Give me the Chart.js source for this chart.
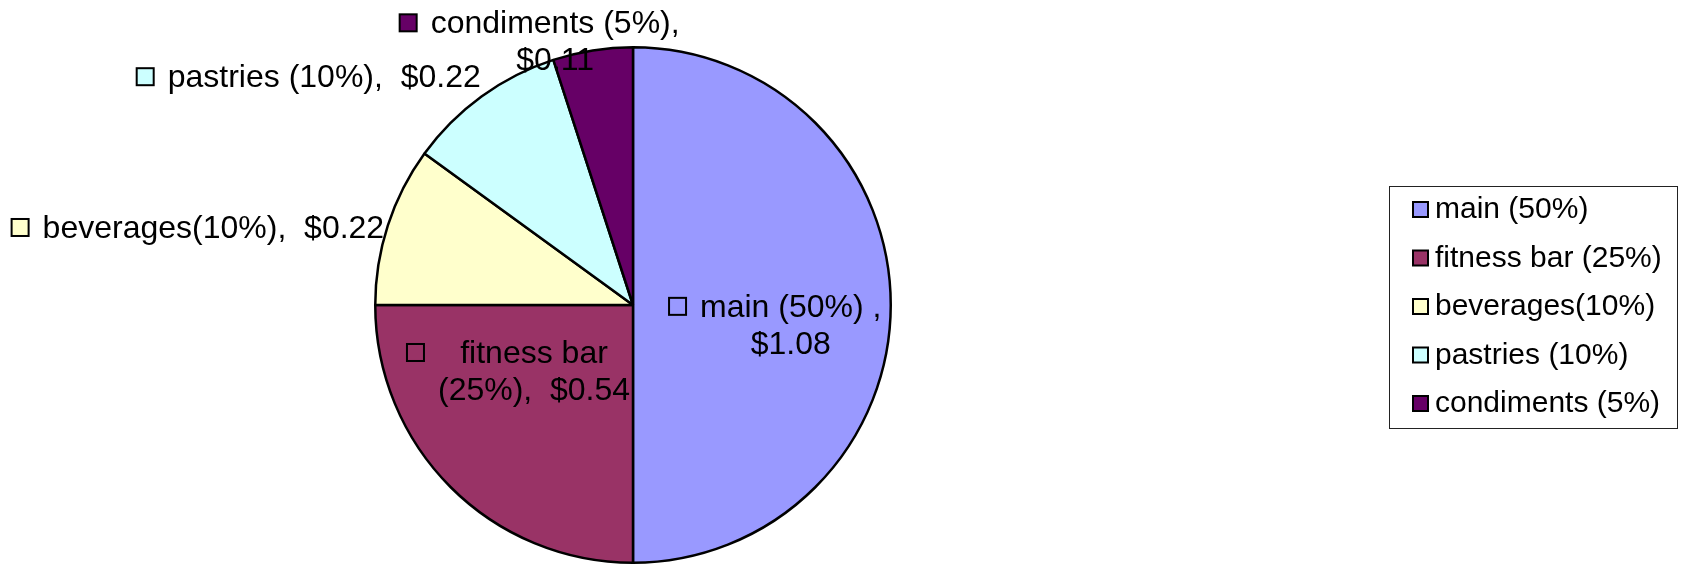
<!DOCTYPE html>
<html>
<head>
<meta charset="utf-8">
<script src="https://cdn.jsdelivr.net/npm/chart.js@4.4.0/dist/chart.umd.min.js"></script>
<style>
  html, body { margin: 0; padding: 0; background: #ffffff; }
  canvas { display: block; }
</style>
</head>
<body>
<canvas id="grafico" width="1681" height="564"></canvas>
<script>
// datos del grafico
const categorias = ['main (50%)', 'fitness bar (25%)', 'beverages(10%)', 'pastries (10%)', 'condiments (5%)'];
const porcentajes = [50, 25, 10, 10, 5];
const montos = ['$1.08', '$0.54', '$0.22', '$0.22', '$0.11'];
const etiquetas = [
    ['main (50%) ,', '$1.08'],
    ['fitness bar', '(25%),  $0.54'],
    ['beverages(10%),  $0.22'],
    ['pastries (10%),  $0.22'],
    ['condiments (5%),', '$0.11']
];
const colores = ['#9999FF', '#993366', '#FFFFCC', '#CCFFFF', '#660066'];

// posicion de cada etiqueta, en radios desde el centro del pastel
const posEtiquetas = [
    [0.612, 0.046],
    [-0.384, 0.225],
    [-1.628, -0.260],
    [-1.198, -0.845],
    [-0.302, -1.054]
];

const FUENTE = 'Liberation Sans, Arial, sans-serif';

// Dibujar etiquetas de datos con su cuadrito de color
const pluginEtiquetas = {
    id: 'etiquetas',
    afterDatasetsDraw(chart) {
        const ctx = chart.ctx;
        const meta = chart.getDatasetMeta(0);
        const colors = chart.data.datasets[0].backgroundColor;
        ctx.save();
        ctx.font = '32px ' + FUENTE;
        ctx.fillStyle = '#000';
        ctx.textBaseline = 'alphabetic';
        ctx.textAlign = 'center';
        meta.data.forEach((arc, i) => {
            const r = arc.outerRadius;
            const cx = arc.x + posEtiquetas[i][0] * r;
            const base = arc.y + posEtiquetas[i][1] * r;
            const lines = etiquetas[i];
            const widest = Math.max(...lines.map(l => ctx.measureText(l).width));
            lines.forEach((l, j) => ctx.fillText(l, cx, base + j * 37));
            // cuadrito a la izquierda del bloque
            const mx = cx - widest / 2 - 14 - 17;
            const my = base - 19;
            ctx.fillStyle = colors[i];
            ctx.fillRect(mx, my, 17, 17);
            ctx.strokeStyle = '#000';
            ctx.lineWidth = 2;
            ctx.strokeRect(mx, my, 17, 17);
            ctx.fillStyle = '#000';
        });
        ctx.restore();
    }
};

// Leyenda con borde, a la derecha
const pluginLeyenda = {
    id: 'leyenda',
    afterDraw(chart) {
        const ctx = chart.ctx;
        const colors = chart.data.datasets[0].backgroundColor;
        ctx.save();
        ctx.strokeStyle = '#222';
        ctx.lineWidth = 1;
        ctx.strokeRect(1389.5, 186.5, 288, 242);
        ctx.font = '30px ' + FUENTE;
        ctx.textBaseline = 'alphabetic';
        ctx.textAlign = 'left';
        chart.data.labels.forEach((label, i) => {
            const base = 218 + i * 48.5;
            ctx.fillStyle = colors[i];
            ctx.fillRect(1413, base - 16, 15, 15);
            ctx.strokeStyle = '#000';
            ctx.lineWidth = 2;
            ctx.strokeRect(1413, base - 16, 15, 15);
            ctx.fillStyle = '#000';
            ctx.fillText(label, 1435, base);
        });
        ctx.restore();
    }
};

const config = {
    type: 'pie',
    data: {
        labels: categorias,
        datasets: [{
            data: porcentajes,
            backgroundColor: colores,
            borderColor: '#000',
            borderWidth: 2.5
        }]
    },
    options: {
        responsive: false,
        animation: false,
        layout: {
            padding: { left: 374, right: 789, top: 46, bottom: 0 }
        },
        plugins: {
            legend: { display: false },
            tooltip: { enabled: false }
        }
    },
    plugins: [pluginEtiquetas, pluginLeyenda]
};

const chartInstance = new Chart(document.getElementById('grafico'), config);
</script>
</body>
</html>
